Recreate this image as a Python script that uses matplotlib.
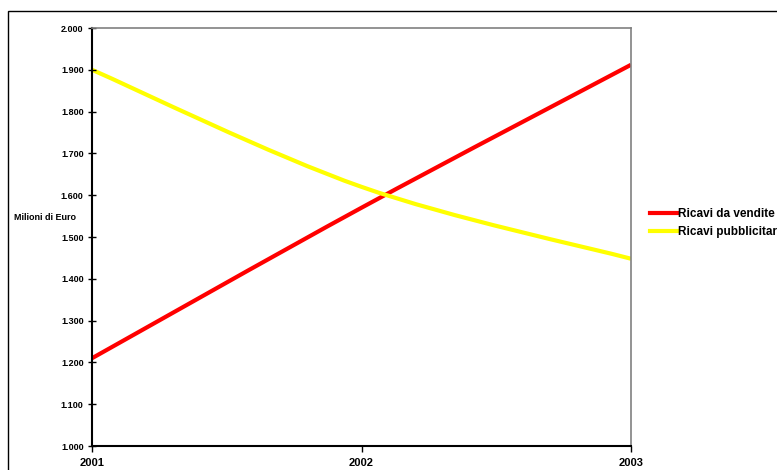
import numpy as np
import matplotlib
matplotlib.use('Agg')
import matplotlib.pyplot as plt
from matplotlib.path import Path
from matplotlib.patches import PathPatch, Rectangle
from matplotlib.lines import Line2D
from matplotlib.ticker import FuncFormatter

# Dati
anni = [2001, 2002, 2003]
ricavi_vendite = [1210, 1570, 1912]
ricavi_pubblicitari = [1900, 1620, 1448]
serie_nomi = ['Ricavi da vendite', 'Ricavi pubblicitari']
colori = ['#ff0000', '#ffff00']

plt.rcParams['font.family'] = ['Liberation Sans', 'DejaVu Sans']


# Curva smussata stile Excel (Bezier con tangenti di Catmull-Rom)
def smooth_path(xs, ys):
    pts = np.column_stack([xs, ys]).astype(float)
    n = len(pts)
    verts = [pts[0]]
    codes = [Path.MOVETO]
    for i in range(n - 1):
        p_prev = pts[i - 1] if i > 0 else pts[i]
        p_next = pts[i + 2] if i + 2 < n else pts[i + 1]
        c1 = pts[i] + (pts[i + 1] - p_prev) / 6
        c2 = pts[i + 1] - (p_next - pts[i]) / 6
        verts += [c1, c2, pts[i + 1]]
        codes += [Path.CURVE4] * 3
    return Path(verts, codes)


fig = plt.figure(figsize=(7.77, 4.70), dpi=100)

# bordo esterno del grafico
fig.patches.append(Rectangle((8 / 777, -0.1), 1.2, 1 - 11 / 470 + 0.1,
                             transform=fig.transFigure, fill=False,
                             edgecolor='black', linewidth=1.0))

ax = fig.add_axes([92 / 777, 1 - 446 / 470, (631 - 92) / 777, (446 - 28) / 470])

for vals, col in zip([ricavi_vendite, ricavi_pubblicitari], colori):
    ax.add_patch(PathPatch(smooth_path(anni, vals), facecolor='none',
                           edgecolor=col, linewidth=3, capstyle='butt'))

ax.set_xlim(2001, 2003)
ax.set_ylim(1000, 2000)
ax.set_xticks(anni)
ax.set_xticklabels([str(a) for a in anni], fontsize=8, fontweight='bold')
ax.set_yticks(np.arange(1000, 2001, 100))
ax.yaxis.set_major_formatter(FuncFormatter(lambda v, p: f'{int(v):,}'.replace(',', '.')))
for lab in ax.get_yticklabels():
    lab.set_fontsize(6.5)
    lab.set_fontweight('bold')
ax.tick_params(axis='y', direction='inout', length=6, width=1, pad=3)
ax.tick_params(axis='x', direction='out', length=4, width=1, pad=5)

for s in ['left', 'bottom']:
    ax.spines[s].set_color('black')
    ax.spines[s].set_linewidth(1.5)
for s in ['top', 'right']:
    ax.spines[s].set_color('#808080')
    ax.spines[s].set_linewidth(1.2)

fig.text(45 / 777, 1 - 217 / 470, 'Milioni di Euro', fontsize=6.5, fontweight='bold',
         ha='center', va='center')

handles = [Line2D([], [], color=c, linewidth=3) for c in colori]
leg = fig.legend(handles, serie_nomi, loc='upper left',
                 bbox_to_anchor=(650 / 777, 1 - 208 / 470), frameon=False,
                 prop={'size': 8.5, 'weight': 'bold'}, handlelength=2.25,
                 handletextpad=0.1, labelspacing=0.55, borderaxespad=0, borderpad=0)

fig.savefig('out.png', dpi=100)
